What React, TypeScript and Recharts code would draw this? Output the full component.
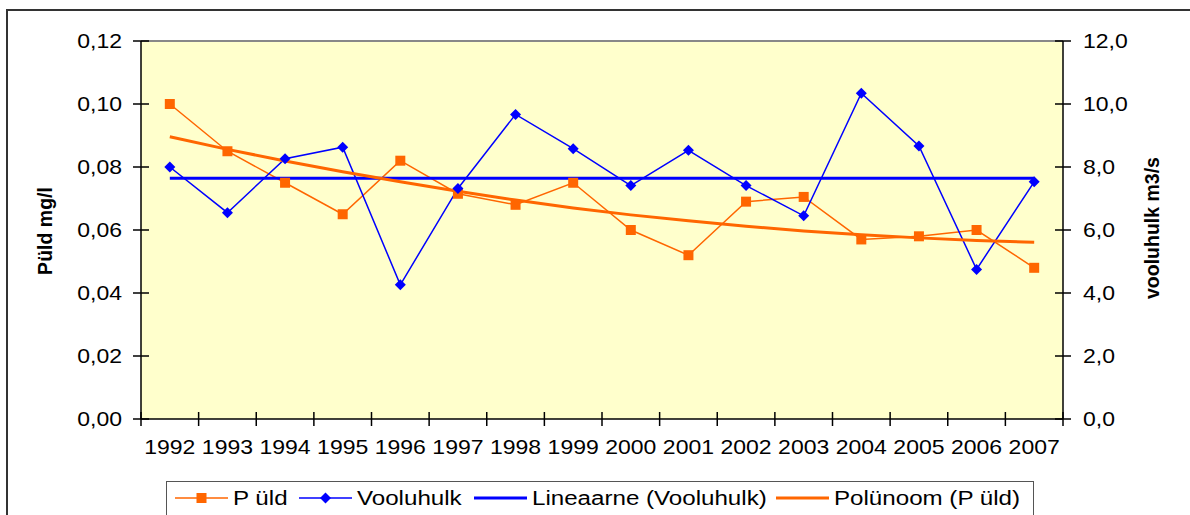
import React from 'react';
import { LineChart, Line, XAxis, YAxis, CartesianGrid, ReferenceLine } from 'recharts';

const years = ['1992', '1993', '1994', '1995', '1996', '1997', '1998', '1999', '2000', '2001', '2002', '2003', '2004', '2005', '2006', '2007'];
const pTotal = [0.1, 0.085, 0.075, 0.065, 0.082, 0.0715, 0.068, 0.075, 0.06, 0.052, 0.069, 0.0705, 0.057, 0.058, 0.06, 0.048];
const flow = [8.0, 6.55, 8.26, 8.63, 4.26, 7.32, 9.67, 8.58, 7.41, 8.53, 7.41, 6.45, 10.34, 8.67, 4.75, 7.53];
const flowLinear = [7.64, 7.64, 7.64, 7.64, 7.64, 7.64, 7.64, 7.64, 7.64, 7.64, 7.64, 7.64, 7.64, 7.64, 7.64, 7.64];
const pPoly = [0.0896, 0.0856, 0.0819, 0.0785, 0.0753, 0.0723, 0.0695, 0.067, 0.0648, 0.0629, 0.0612, 0.0597, 0.0585, 0.0575, 0.0567, 0.0561];

const leftTicks = [0, 0.02, 0.04, 0.06, 0.08, 0.1, 0.12];
const rightTicks = [0, 2, 4, 6, 8, 10, 12];
const bandEdges = [0, 1, 2, 3, 4, 5, 6, 7, 8, 9, 10, 11, 12, 13, 14, 15, 16];

const legendItems = [
    { name: 'P üld', color: '#FF6600', width: 1.5, marker: 'square' },
    { name: 'Vooluhulk', color: '#0000FF', width: 1.5, marker: 'diamond' },
    { name: 'Lineaarne (Vooluhulk)', color: '#0000FF', width: 3, marker: '' },
    { name: 'Polünoom (P üld)', color: '#FF6600', width: 3, marker: '' },
];

const data = years.map((year, i) => ({
    x: i + 0.5,
    year,
    p: pTotal[i],
    flow: flow[i],
    flowLinear: flowLinear[i],
    pPoly: pPoly[i],
}));

// layout
const PLOT_LEFT = 141;
const PLOT_RIGHT = 1063;
const PLOT_BOTTOM = 419;
const HALF_BAND = (PLOT_RIGHT - PLOT_LEFT) / years.length / 2;
const STRETCH = 1.15; // the original text is a bit wide
const legendX = [8, 132, 307, 609];

const tickFont = { fontFamily: 'Liberation Sans', fontSize: 20, fill: '#000' };
const titleFont = { fontFamily: 'Liberation Sans', fontSize: 19.5, fontWeight: 'bold' as const, fill: '#000' };

const fmtLeft = (v: number) => v.toFixed(2).replace('.', ',');
const fmtRight = (v: number) => v.toFixed(1).replace('.', ',');

const WideText = ({ x, y, anchor, children, style, dy }: any) => (
    <text
        transform={`translate(${x},${y}) scale(${STRETCH},1)`}
        textAnchor={anchor}
        dominantBaseline={dy ? undefined : 'central'}
        dy={dy}
        style={style}
    >
        {children}
    </text>
);

const LeftTick = ({ y, payload }: any) => (
    <g>
        <line x1={PLOT_LEFT - 8} x2={PLOT_LEFT + 8} y1={y} y2={y} stroke="#000" strokeWidth={1.5} />
        <WideText x={PLOT_LEFT - 19} y={y} anchor="end" style={tickFont}>
            {fmtLeft(payload.value)}
        </WideText>
    </g>
);

const RightTick = ({ y, payload }: any) => (
    <g>
        <line x1={PLOT_RIGHT - 8} x2={PLOT_RIGHT + 8} y1={y} y2={y} stroke="#000" strokeWidth={1.5} />
        <WideText x={PLOT_RIGHT + 20} y={y} anchor="start" style={tickFont}>
            {fmtRight(payload.value)}
        </WideText>
    </g>
);

const YearTick = ({ x, payload }: any) => (
    <g>
        <line x1={x} x2={x} y1={PLOT_BOTTOM - 7} y2={PLOT_BOTTOM + 7} stroke="#000" strokeWidth={1.5} />
        {payload.value < years.length && (
            <WideText x={x + HALF_BAND} y={PLOT_BOTTOM + 21} dy="0.71em" anchor="middle" style={tickFont}>
                {years[payload.value]}
            </WideText>
        )}
    </g>
);

const SquareDot = ({ cx, cy, index }: any) =>
    cx == null ? null : <rect key={`sq-${index}`} x={cx - 5} y={cy - 5} width={10} height={10} fill="#FF6600" />;

const DiamondDot = ({ cx, cy, index }: any) =>
    cx == null ? null : (
        <polygon
            key={`dm-${index}`}
            points={`${cx},${cy - 5.5} ${cx + 5.5},${cy} ${cx},${cy + 5.5} ${cx - 5.5},${cy}`}
            fill="#0000FF"
        />
    );

function LegendBox() {
    return (
        <div
            style={{
                position: 'absolute',
                left: 166,
                top: 481,
                width: 866,
                height: 60,
                border: '1.5px solid #555',
                background: '#fff',
            }}
        >
            <svg width={866} height={60} style={{ display: 'block' }}>
                {legendItems.map((item, i) => (
                    <g key={item.name} transform={`translate(${legendX[i]},0)`}>
                        <line x1={0} x2={53} y1={16} y2={16} stroke={item.color} strokeWidth={item.width} />
                        {item.marker === 'square' && <rect x={21.5} y={11} width={10} height={10} fill={item.color} />}
                        {item.marker === 'diamond' && (
                            <polygon points="26.5,10.5 32,16 26.5,21.5 21,16" fill={item.color} />
                        )}
                        <WideText x={58} y={16} anchor="start" style={{ fontFamily: 'Liberation Sans', fontSize: 21, fill: '#000' }}>
                            {item.name}
                        </WideText>
                    </g>
                ))}
            </svg>
        </div>
    );
}

export default function App() {
    return (
        <div
            style={{
                position: 'absolute',
                left: 0,
                top: 0,
                width: 1190,
                height: 515,
                overflow: 'hidden',
                background: '#fff',
            }}
        >
            <div
                style={{
                    position: 'absolute',
                    left: 6,
                    top: 9,
                    width: 1300,
                    height: 700,
                    border: '2px solid #333',
                }}
            />
            <div style={{ position: 'absolute', left: 0, top: 0 }}>
                <LineChart width={1190} height={515} data={data} margin={{ top: 41, right: 0, bottom: 56, left: 0 }}>
                    <CartesianGrid fill="#FFFFCC" horizontal={false} vertical={false} yAxisId="left" />
                    <XAxis
                        dataKey="x"
                        type="number"
                        domain={[0, 16]}
                        ticks={bandEdges}
                        interval={0}
                        height={40}
                        tickLine={false}
                        tick={YearTick}
                        axisLine={{ stroke: '#000', strokeWidth: 1.5 }}
                    />
                    <YAxis
                        yAxisId="left"
                        orientation="left"
                        domain={[0, 0.12]}
                        ticks={leftTicks}
                        interval={0}
                        width={141}
                        tickLine={false}
                        tick={LeftTick}
                        axisLine={{ stroke: '#000', strokeWidth: 1.5 }}
                        label={() => (
                            <text x={45} y={231} transform="rotate(-90 45 231)" textAnchor="middle" dominantBaseline="central" style={titleFont}>
                                Püld mg/l
                            </text>
                        )}
                    />
                    <YAxis
                        yAxisId="right"
                        orientation="right"
                        domain={[0, 12]}
                        ticks={rightTicks}
                        interval={0}
                        width={127}
                        tickLine={false}
                        tick={RightTick}
                        axisLine={{ stroke: '#000', strokeWidth: 1.5 }}
                        label={() => (
                            <text x={1152} y={228} transform="rotate(-90 1152 228)" textAnchor="middle" dominantBaseline="central" style={titleFont}>
                                vooluhulk m3/s
                            </text>
                        )}
                    />
                    <ReferenceLine yAxisId="left" y={0.12} stroke="#888" strokeWidth={2} />
                    <Line
                        yAxisId="left"
                        dataKey="p"
                        stroke="#FF6600"
                        strokeWidth={1.5}
                        dot={SquareDot}
                        activeDot={false}
                        isAnimationActive={false}
                    />
                    <Line
                        yAxisId="right"
                        dataKey="flow"
                        stroke="#0000FF"
                        strokeWidth={1.5}
                        dot={DiamondDot}
                        activeDot={false}
                        isAnimationActive={false}
                    />
                    <Line
                        yAxisId="right"
                        dataKey="flowLinear"
                        stroke="#0000FF"
                        strokeWidth={3}
                        dot={false}
                        activeDot={false}
                        isAnimationActive={false}
                    />
                    <Line
                        yAxisId="left"
                        type="monotone"
                        dataKey="pPoly"
                        stroke="#FF6600"
                        strokeWidth={3}
                        dot={false}
                        activeDot={false}
                        isAnimationActive={false}
                    />
                </LineChart>
            </div>
            <LegendBox />
        </div>
    );
}
